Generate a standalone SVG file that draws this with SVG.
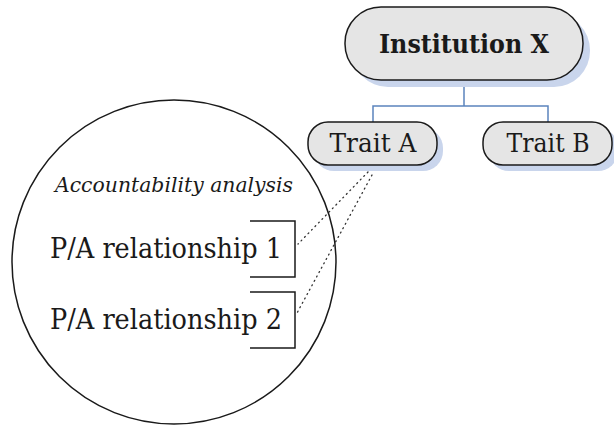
<svg xmlns="http://www.w3.org/2000/svg" width="614" height="427" viewBox="0 0 614 427">
<style>
.box{fill:#e5e5e5;stroke:#1a1a1a;stroke-width:1.5}
.shadow{fill:#c9d5ec}
.t{font-family:"DejaVu Serif","Liberation Serif",serif;fill:#1a1a1a;text-anchor:middle}
.conn{fill:none;stroke:#5b84bd;stroke-width:1.5}
.dot{fill:none;stroke:#333;stroke-width:1.3;stroke-dasharray:1 4;stroke-linecap:round}
.br{fill:none;stroke:#1a1a1a;stroke-width:1.5}
</style>
<rect width="614" height="427" fill="#fff"/>
<g id="connectors">
<path class="conn" d="M464 80V106M373 122V106H548V122"/>
<path class="dot" d="M368 172L298 244"/>
<path class="dot" d="M372 175L297 313"/>
</g>
<g id="institution-x">
<rect class="shadow" x="352" y="14" width="238" height="73" rx="36"/>
<rect class="box" x="345" y="7" width="238" height="73" rx="36"/>
<text class="t" x="464" y="53" font-size="26" font-weight="bold" textLength="170" lengthAdjust="spacingAndGlyphs">Institution X</text>
</g>
<g id="trait-a">
<rect class="shadow" x="314" y="128" width="129" height="43" rx="20"/>
<rect class="box" x="308" y="122" width="129" height="43" rx="20"/>
<text class="t" x="373" y="152" font-size="26" textLength="87" lengthAdjust="spacingAndGlyphs">Trait A</text>
</g>
<g id="trait-b">
<rect class="shadow" x="489" y="128" width="129" height="43" rx="20"/>
<rect class="box" x="483" y="122" width="129" height="43" rx="20"/>
<text class="t" x="548" y="152" font-size="26" textLength="83" lengthAdjust="spacingAndGlyphs">Trait B</text>
</g>
<g id="accountability-analysis">
<circle cx="174" cy="262" r="162" fill="none" stroke="#1a1a1a" stroke-width="1.5"/>
<text class="t" x="174" y="192" font-size="20" font-style="italic" fill="#333" textLength="238" lengthAdjust="spacingAndGlyphs">Accountability analysis</text>
</g>
<g id="pa-1">
<path class="br" d="M250 221H295V277H250"/>
<text class="t" x="166" y="258" font-size="27" textLength="232" lengthAdjust="spacingAndGlyphs">P/A relationship 1</text>
</g>
<g id="pa-2">
<path class="br" d="M250 292H295V348H250"/>
<text class="t" x="166" y="329" font-size="27" textLength="232" lengthAdjust="spacingAndGlyphs">P/A relationship 2</text>
</g>
</svg>
